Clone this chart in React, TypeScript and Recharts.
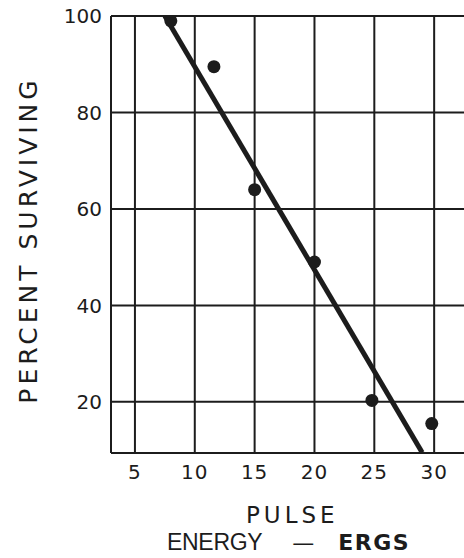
import React from "react";
import {
  ComposedChart,
  Scatter,
  XAxis,
  YAxis,
  CartesianGrid,
} from "recharts";

// measured survival points (pulse energy in ergs, percent surviving)
const energy = [8, 11.6, 15, 20, 24.8, 29.8];
const surviving = [99, 89.5, 64, 49, 20.3, 15.5];

// hand-drawn fit line, end points
const fitEnergy = [7.5, 29];
const fitSurviving = [100, 9.5];

const xTicks = [5, 10, 15, 20, 25, 30];
const yTicks = [20, 40, 60, 80, 100];

const points = energy.map((x, i) => ({ x, y: surviving[i] }));
const fitLine = fitEnergy.map((x, i) => ({ x, y: fitSurviving[i] }));

const ink = "#1c1c1c";
const font = "DejaVu Sans";

function YLabel() {
  return (
    <text
      x={37}
      y={240}
      transform="rotate(-90, 37, 240)"
      textAnchor="middle"
      fill={ink}
      fontFamily={font}
      fontSize={25}
      letterSpacing={4}
    >
      PERCENT SURVIVING
    </text>
  );
}

function XLabel(props: any) {
  const x0 = props.viewBox?.x ?? 111;
  return (
    <g fill={ink}>
      <text x={x0 + 135} y={523} fontFamily={font} fontSize={23} letterSpacing={4}>
        PULSE
      </text>
      <text x={x0 + 56} y={550}>
        <tspan fontFamily="Liberation Sans" fontSize={23} letterSpacing={-0.3}>
          ENERGY
        </tspan>
        <tspan fontFamily={font} fontSize={22} dx={30}>
          —
        </tspan>
        <tspan fontFamily={font} fontSize={22} fontWeight="bold" dx={24} letterSpacing={1.5}>
          ERGS
        </tspan>
      </text>
    </g>
  );
}

export default function App() {
  return (
    <div
      style={{
        position: "absolute",
        left: 0,
        top: 0,
        width: 464,
        height: 558,
        overflow: "hidden",
        background: "#fff",
      }}
    >
      <ComposedChart
        width={500}
        height={558}
        margin={{ top: 16, right: 6, bottom: 0, left: 0 }}
      >
        <CartesianGrid stroke={ink} strokeWidth={2} />
        <XAxis
          type="number"
          dataKey="x"
          domain={[3, 35]}
          ticks={xTicks}
          allowDataOverflow
          height={105}
          tickLine={false}
          tickSize={6}
          tickMargin={6}
          axisLine={{ stroke: ink, strokeWidth: 2 }}
          tick={{ fill: ink, fontSize: 20, fontFamily: font, letterSpacing: 1 }}
          label={<XLabel />}
        />
        <YAxis
          type="number"
          dataKey="y"
          domain={[9.4, 100]}
          ticks={yTicks}
          allowDataOverflow
          width={111}
          tickLine={false}
          tickSize={6}
          tickMargin={3}
          axisLine={{ stroke: ink, strokeWidth: 2 }}
          tick={{ fill: ink, fontSize: 20, fontFamily: font }}
          label={<YLabel />}
        />
        <Scatter
          data={fitLine}
          line={{ stroke: ink, strokeWidth: 5 }}
          shape={() => <g />}
          isAnimationActive={false}
        />
        <Scatter
          data={points}
          shape={(p: any) => <circle cx={p.cx} cy={p.cy} r={6.5} fill={ink} />}
          isAnimationActive={false}
        />
      </ComposedChart>
    </div>
  );
}
